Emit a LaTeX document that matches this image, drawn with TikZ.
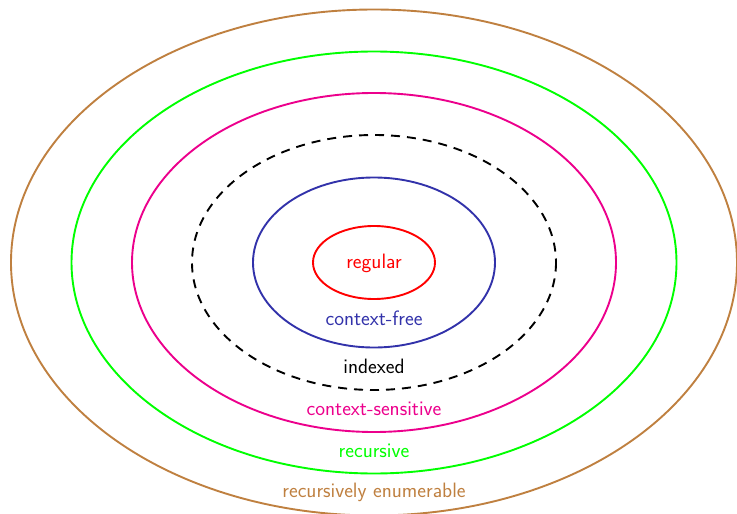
\documentclass[tikz,border=0pt]{standalone}
\usetikzlibrary{positioning}
\definecolor{cbrown}{RGB}{191,128,64}
\definecolor{cgreen}{RGB}{0,255,0}
\definecolor{cmag}{RGB}{236,0,140}
\definecolor{cblue}{RGB}{50,50,170}
\definecolor{cred}{RGB}{255,0,0}
\begin{document}
\begin{tikzpicture}[x=1pt,y=-1pt,
  ring/.style={line width=1.9pt},
  lbl/.style={font=\sffamily\fontsize{20.8}{24}\selectfont, inner sep=0pt}]
\useasboundingbox (0,0) rectangle (737,514);
\coordinate (c) at (374,262.5);
\draw[ring,cbrown] (c) ellipse [x radius=363, y radius=253];
\draw[ring,cgreen] (c) ellipse [x radius=302.5, y radius=211];
\draw[ring,cmag] (c) ellipse [x radius=242, y radius=169.5];
\draw[ring,black,dash pattern=on 9pt off 7pt] (c) ellipse [x radius=182, y radius=127.5];
\draw[ring,cblue] (c) ellipse [x radius=121, y radius=85];
\draw[ring,cred] (c) ellipse [x radius=61, y radius=36.5];
\node[lbl,text=cred] (reg) at (374,263) {regular};
\node[lbl,text=cblue] (cf) at (374,318) {context-free};
\node[lbl,text=black] (idx) at (374,366) {indexed};
\node[lbl,text=cmag] (cs) at (374,409) {context-sensitive};
\node[lbl,text=cgreen] (rec) at (374,451) {recursive};
\node[lbl,text=cbrown] (re) at (374,492) {recursively enumerable};
\end{tikzpicture}
\end{document}
